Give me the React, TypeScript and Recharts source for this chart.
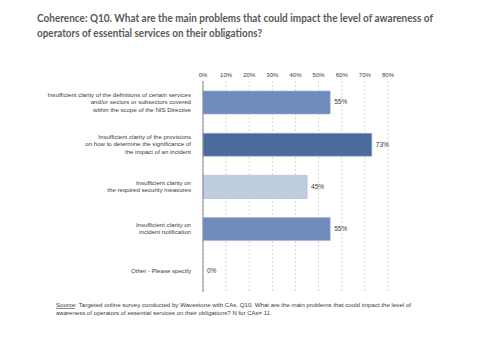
import React from "react";
import { ComposedChart, Bar, Line, XAxis, YAxis, CartesianGrid, Cell } from "recharts";

const titleLines = [
  "Coherence: Q10. What are the main problems that could impact the level of awareness of",
  "operators of essential services on their obligations?",
];

const categories: string[][] = [
  ["Insufficient clarity of the definitions of certain services", "and/or sectors or subsectors covered", "within the scope of the NIS Directive"],
  ["Insufficient clarity of the provisions", "on how to determine the significance of", "the impact of an incident"],
  ["Insufficient clarity on", "the required security measures"],
  ["Insufficient clarity on", "incident notification"],
  ["Other - Please specify"],
];

const values = [55, 73, 45, 55, 0];
const barColors = ["#6d8cbd", "#4a6a9c", "#c0cce0", "#6d8cbd", "#6d8cbd"];
const xTicks = [0, 10, 20, 30, 40, 50, 60, 70, 80];

const sourceLabel = "Source";
const sourceLines = [
  ": Targeted online survey conducted by Wavestone with CAs. Q10. What are the main problems that could impact the level of",
  "awareness of operators of essential services on their obligations? N for CAs= 11",
];

const data = categories.map((c, i) => ({ name: c.join("\n"), value: values[i] }));

const FONT = "'Liberation Sans', Arial, sans-serif";

const YTick = (props: any) => {
  const { x, y, payload } = props;
  const lines: string[] = String(payload.value).split("\n");
  const lh = 7.4;
  const start = -((lines.length - 1) / 2) * lh + 2;
  return (
    <text x={x - 4} y={y} textAnchor="end" fontSize={6.1} fill="#3a3a3a" fontFamily={FONT}>
      {lines.map((l, i) => (
        <tspan key={i} x={x - 4} dy={i === 0 ? start : lh}>
          {l}
        </tspan>
      ))}
    </text>
  );
};

const XTick = (props: any) => {
  const { x, payload } = props;
  return (
    <text x={x} y={77} textAnchor="middle" fontSize={6} fill="#3a3a3a" fontFamily={FONT}>
      {payload.value + "%"}
    </text>
  );
};

const PointLabel = (props: any) => {
  const { x, y, value } = props;
  return (
    <text x={Number(x) + 4} y={Number(y) + 2.2} fontSize={6.5} fill="#3a3a3a" fontFamily={FONT}>
      {value + "%"}
    </text>
  );
};

export default function App() {
  return (
    <div style={{ position: "absolute", left: 0, top: 0, width: 480, height: 360, background: "#fff" }}>
      <ComposedChart
        width={480}
        height={360}
        data={data}
        layout="vertical"
        margin={{ top: 66, right: 92, bottom: 68, left: 0 }}
      >
        <CartesianGrid horizontal={false} vertical stroke="#d4d4d4" strokeDasharray="2 2" />
        <XAxis
          type="number"
          orientation="top"
          domain={[0, 80]}
          ticks={xTicks}
          axisLine={false}
          tickLine={false}
          height={15}
          tick={<XTick />}
          interval={0}
        />
        <YAxis
          type="category"
          dataKey="name"
          width={203}
          axisLine={{ stroke: "#888888" }}
          tickLine={false}
          tick={<YTick />}
          interval={0}
        />
        <Bar dataKey="value" barSize={23} isAnimationActive={false} stroke="#9fb3d3" strokeWidth={0.6}>
          {data.map((d, i) => (
            <Cell key={i} fill={barColors[i]} />
          ))}
        </Bar>
        <Line
          dataKey="value"
          stroke="none"
          dot={false}
          activeDot={false}
          isAnimationActive={false}
          label={<PointLabel />}
        />
      </ComposedChart>
      <svg
        width={480}
        height={360}
        style={{ position: "absolute", left: 0, top: 0, pointerEvents: "none" }}
      >
        <text x={37} y={22} fontSize={10.5} fontWeight="bold" fill="#595959" fontFamily="Lato, sans-serif" textLength={396} lengthAdjust="spacingAndGlyphs">
          {titleLines[0]}
        </text>
        <text x={37} y={37} fontSize={10.5} fontWeight="bold" fill="#595959" fontFamily="Lato, sans-serif" textLength={225} lengthAdjust="spacingAndGlyphs">
          {titleLines[1]}
        </text>
        <text x={56} y={307} fontSize={5.8} fill="#3a3a3a" fontFamily={FONT} textLength={355} lengthAdjust="spacingAndGlyphs">
          <tspan textDecoration="underline">{sourceLabel}</tspan>
          <tspan>{sourceLines[0]}</tspan>
        </text>
        <text x={56} y={315} fontSize={5.8} fill="#3a3a3a" fontFamily={FONT} textLength={214} lengthAdjust="spacingAndGlyphs">
          {sourceLines[1]}
        </text>
      </svg>
    </div>
  );
}
